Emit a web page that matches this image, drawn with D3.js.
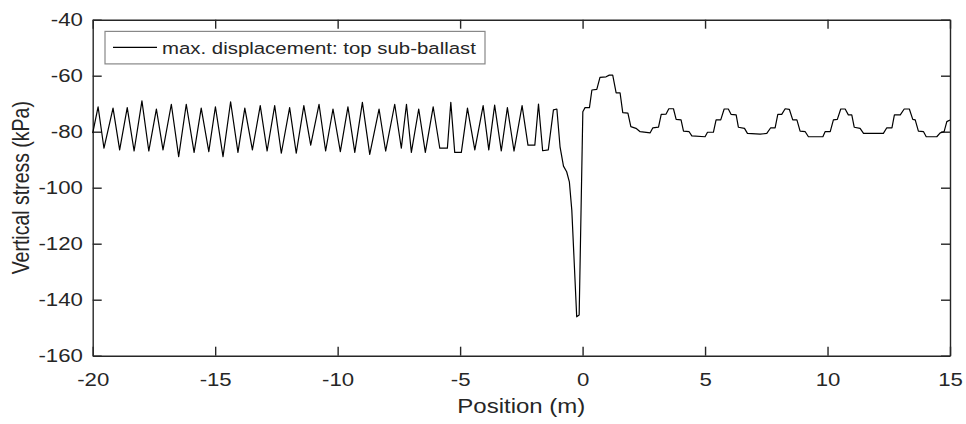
<!DOCTYPE html>
<html>
<head>
<meta charset="utf-8">
<script src="https://cdn.jsdelivr.net/npm/d3@7"></script>
<style>
  body { margin: 0; background: #fff; }
  svg { display: block; }
  text { font-family: "Liberation Sans", Arial, sans-serif; fill: #262626; }
</style>
</head>
<body>
<svg id="chart" width="966" height="424"></svg>
<script>
// position along the track (m) and vertical stress (kPa)
const position = [
  -20.00, -19.78, -19.54, -19.17, -18.90, -18.59, -18.31, -17.99, -17.71, -17.40,
  -17.13, -16.79, -16.49, -16.18, -15.86, -15.57, -15.26, -14.99, -14.68, -14.37,
  -14.07, -13.79, -13.48, -13.16, -12.88, -12.57, -12.30, -11.96, -11.69, -11.38,
  -11.10, -10.76, -10.49, -10.19, -9.89, -9.58, -9.30, -8.99, -8.69, -8.31,
  -8.04, -7.67, -7.40, -7.19, -6.99, -6.69, -6.42, -6.10, -5.83, -5.52,
  -5.38, -5.22, -4.95, -4.70, -4.40, -4.06, -3.83, -3.59, -3.32, -3.07,
  -2.80, -2.47, -2.23, -1.95, -1.80, -1.63, -1.40, -1.19, -1.05, -0.92,
  -0.78, -0.65, -0.54, -0.44, -0.24, -0.14, 0.01, 0.10, 0.28, 0.38,
  0.58, 0.71, 0.96, 1.09, 1.23, 1.37, 1.53, 1.64, 1.85, 1.97,
  2.18, 2.35, 2.76, 2.87, 3.10, 3.21, 3.41, 3.52, 3.71, 3.82,
  4.02, 4.12, 4.35, 4.46, 5.00, 5.10, 5.34, 5.45, 5.64, 5.78,
  5.95, 6.06, 6.27, 6.36, 6.61, 6.73, 7.25, 7.52, 7.68, 7.86,
  7.97, 8.13, 8.27, 8.44, 8.58, 8.75, 8.88, 9.09, 9.22, 9.81,
  9.90, 10.11, 10.24, 10.40, 10.54, 10.72, 10.85, 10.99, 11.09, 11.33,
  11.47, 12.28, 12.42, 12.63, 12.73, 12.97, 13.13, 13.34, 13.48, 13.58,
  13.71, 13.92, 14.03, 14.46, 14.60, 14.76, 14.87, 15.00
];
const stress = [
  -80.5, -71.1, -85.9, -71.6, -86.5, -71.4, -86.9, -69.0, -86.9, -71.9,
  -86.5, -70.2, -88.9, -70.2, -87.4, -71.6, -87.1, -71.1, -88.9, -69.3,
  -87.4, -71.6, -86.5, -70.7, -86.9, -70.7, -87.7, -71.4, -87.7, -70.7,
  -84.8, -70.2, -86.9, -71.9, -87.1, -71.1, -87.4, -69.5, -88.1, -71.9,
  -86.9, -70.2, -85.9, -70.2, -87.4, -71.9, -87.4, -71.1, -85.9, -85.9,
  -69.5, -87.4, -87.4, -71.6, -86.5, -70.7, -86.5, -70.5, -86.9, -71.4,
  -86.9, -70.7, -84.8, -84.8, -70.1, -86.8, -86.5, -72.2, -71.9, -85.4,
  -92.3, -94.3, -97.9, -108.0, -146.1, -145.5, -72.9, -71.4, -71.4, -65.1,
  -64.9, -60.6, -60.4, -59.8, -59.8, -66.1, -66.1, -73.2, -73.4, -78.2,
  -78.8, -80.0, -80.4, -78.6, -78.4, -73.8, -73.7, -71.8, -71.8, -75.6,
  -75.8, -79.8, -80.0, -81.5, -81.8, -80.2, -80.2, -75.8, -75.8, -71.9,
  -71.9, -73.8, -74.0, -78.4, -78.8, -80.6, -80.9, -80.6, -78.6, -78.6,
  -73.8, -73.8, -71.8, -72.0, -75.8, -75.8, -79.8, -80.0, -81.8, -81.8,
  -80.0, -80.0, -75.8, -75.6, -71.9, -71.9, -74.0, -74.0, -78.4, -78.8,
  -80.6, -80.6, -78.6, -78.6, -74.0, -74.0, -71.9, -71.9, -75.6, -75.8,
  -79.8, -80.0, -81.8, -81.8, -80.4, -80.0, -76.4, -75.8
];
const xTicks = [-20, -15, -10, -5, 0, 5, 10, 15];
const yTicks = [-160, -140, -120, -100, -80, -60, -40];
const seriesName = "max. displacement: top sub-ballast";

const svg = d3.select("#chart");
const margin = { left: 92.7, right: 16, top: 19.7, bottom: 68.3 };
const width = 966 - margin.left - margin.right;
const height = 424 - margin.top - margin.bottom;
const stretch = 1.2; // the figure text is a bit wider than normal

const x = d3.scaleLinear().domain([-20, 15]).range([0, width]);
const y = d3.scaleLinear().domain([-160, -40]).range([height, 0]);

const g = svg.append("g")
  .attr("transform", `translate(${margin.left},${margin.top})`);

const axisColor = "#262626";
const plain = d => String(d); // keep the plain hyphen for negatives

function styleAxis(sel) {
  sel.select(".domain").attr("stroke", axisColor).attr("stroke-width", 1.4);
  sel.selectAll(".tick line").attr("stroke", axisColor).attr("stroke-width", 1.4);
  sel.selectAll(".tick text")
    .style("font-size", "18.5px")
    .attr("fill", axisColor);
}

// bottom and left axes with labels
g.append("g")
  .attr("transform", `translate(0,${height})`)
  .call(d3.axisBottom(x).tickValues(xTicks).tickFormat(plain)
    .tickSize(-9).tickSizeOuter(0).tickPadding(17))
  .call(styleAxis)
  .selectAll(".tick text").attr("transform", `scale(${stretch},1)`);

g.append("g")
  .call(d3.axisLeft(y).tickValues(yTicks).tickFormat(plain)
    .tickSize(-9).tickSizeOuter(0).tickPadding(8.2))
  .call(styleAxis)
  .selectAll(".tick text").attr("transform", `scale(${stretch},1)`);

// mirrored ticks on top and right
g.append("g")
  .call(d3.axisTop(x).tickValues(xTicks).tickSize(-9).tickSizeOuter(0).tickFormat(""))
  .call(styleAxis);

g.append("g")
  .attr("transform", `translate(${width},0)`)
  .call(d3.axisRight(y).tickValues(yTicks).tickSize(-9).tickSizeOuter(0).tickFormat(""))
  .call(styleAxis);

const data = position.map((p, i) => ({ p, s: stress[i] }));

const line = d3.line()
  .x(d => x(d.p))
  .y(d => y(d.s));

g.append("path")
  .datum(data)
  .attr("fill", "none")
  .attr("stroke", "#000")
  .attr("stroke-width", 1.2)
  .attr("stroke-linejoin", "round")
  .attr("d", line);

// axis titles
g.append("text")
  .attr("transform", `translate(${width / 2},${height + 57}) scale(${stretch},1)`)
  .attr("text-anchor", "middle")
  .style("font-size", "20px")
  .text("Position (m)");

g.append("text")
  .attr("transform", `translate(${-64},${height / 2}) rotate(-90) scale(1,${stretch})`)
  .attr("text-anchor", "middle")
  .style("font-size", "19.5px")
  .text("Vertical stress (kPa)");

// legend
const legend = g.append("g").attr("transform", "translate(12.3,11.7)");
legend.append("rect")
  .attr("width", 380)
  .attr("height", 32.5)
  .attr("fill", "#fff")
  .attr("stroke", "#888")
  .attr("stroke-width", 1.2);
legend.append("line")
  .attr("x1", 8).attr("x2", 52)
  .attr("y1", 16).attr("y2", 16)
  .attr("stroke", "#000")
  .attr("stroke-width", 1.2);
legend.append("text")
  .attr("transform", `translate(57,22.5) scale(${stretch},1)`)
  .style("font-size", "17px")
  .attr("fill", "#000")
  .text(seriesName);
</script>
</body>
</html>
